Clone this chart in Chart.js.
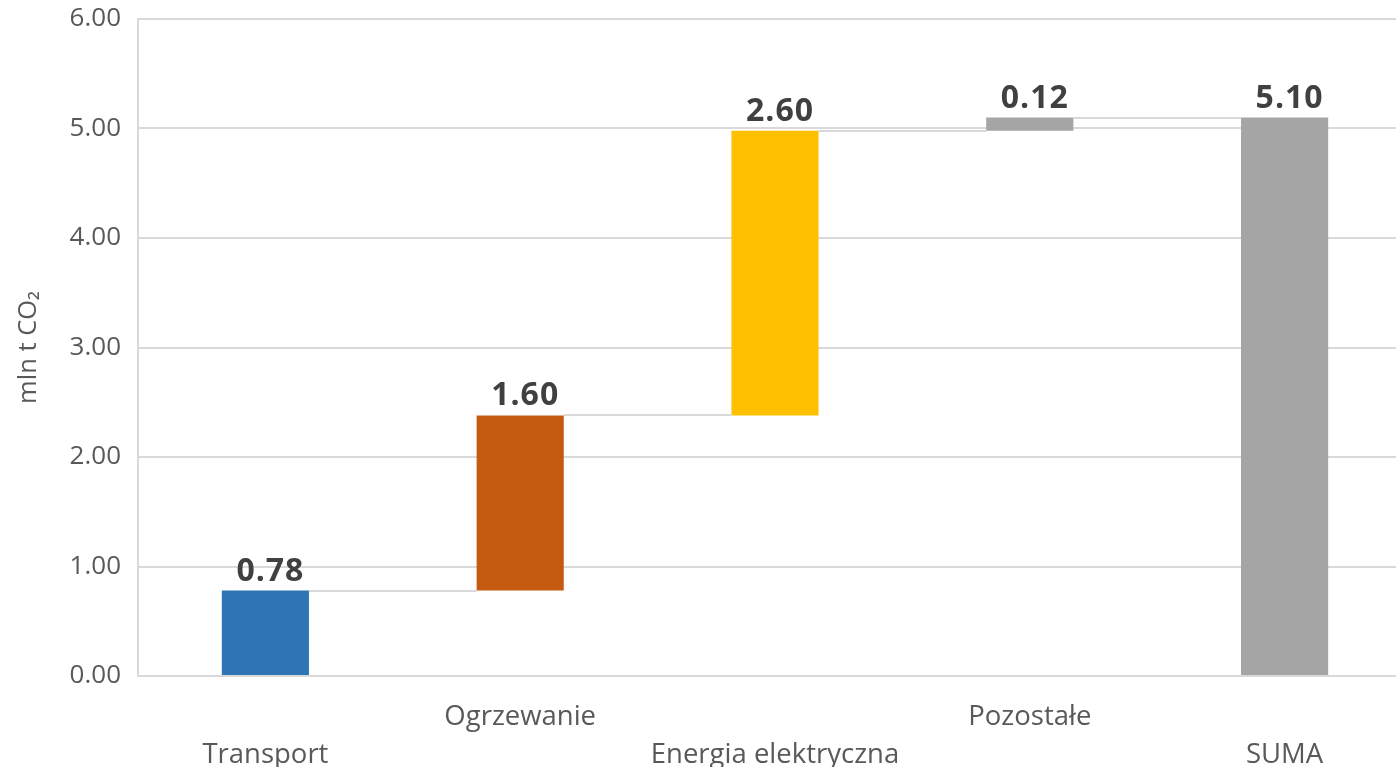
<!DOCTYPE html>
<html>
<head>
<meta charset="utf-8">
<script src="https://cdn.jsdelivr.net/npm/chart.js@4.4.1/dist/chart.umd.min.js"></script>
<style>
html,body{margin:0;padding:0;background:#fff;overflow:hidden;}
#wrap{width:1412px;height:767px;position:relative;}
</style>
</head>
<body>
<div id="wrap"><canvas id="c" width="1412" height="767"></canvas></div>
<script>
// Data
const categories = [["", "Transport"], ["Ogrzewanie", ""], ["", "Energia elektryczna"], ["Pozostałe", ""], ["", "SUMA"]];
const increments = [0.78, 1.60, 2.60, 0.12];
const total = 5.10;
const labelsText = ["0.78", "1.60", "2.60", "0.12", "5.10"];
const barColors = ["#2E75B6", "#C55A11", "#FFC000", "#A5A5A5", "#A5A5A5"];
const yTicks = [0, 1, 2, 3, 4, 5, 6];

// floating ranges for waterfall
const ranges = [];
let run = 0;
increments.forEach(v => { ranges.push([run, +(run + v).toFixed(2)]); run = +(run + v).toFixed(2); });
ranges.push([0, total]);

const FONT = "'Open Sans', sans-serif";

const waterfallPlugin = {
  id: 'waterfall',
  afterDatasetsDraw(chart) {
    const ctx = chart.ctx;
    const meta = chart.getDatasetMeta(0);
    const y = chart.scales.y;
    ctx.save();
    // connectors
    ctx.strokeStyle = '#D9D9D9';
    ctx.lineWidth = 2;
    for (let i = 0; i < meta.data.length - 1; i++) {
      const a = meta.data[i], b = meta.data[i + 1];
      const yy = Math.round(y.getPixelForValue(ranges[i][1]));
      ctx.beginPath();
      ctx.moveTo(a.x + a.width / 2, yy);
      ctx.lineTo(b.x - b.width / 2, yy);
      ctx.stroke();
    }
    // data labels
    ctx.fillStyle = '#404040';
    ctx.font = "bold 32px " + FONT;
    try { ctx.letterSpacing = '1px'; } catch (e) {}
    ctx.textAlign = 'center';
    ctx.textBaseline = 'alphabetic';
    meta.data.forEach((bar, i) => {
      const top = y.getPixelForValue(ranges[i][1]);
      ctx.fillText(labelsText[i], bar.x + 5, top - 10);
    });
    ctx.restore();
  }
};

new Chart(document.getElementById('c'), {
  type: 'bar',
  data: {
    labels: categories,
    datasets: [{
      data: ranges,
      backgroundColor: barColors,
      borderWidth: 0,
      barPercentage: 0.342,
      categoryPercentage: 1.0
    }]
  },
  options: {
    responsive: false,
    animation: false,
    devicePixelRatio: 1,
    layout: { padding: { top: 19, right: 0, left: 0, bottom: 0 } },
    plugins: { legend: { display: false }, tooltip: { enabled: false } },
    scales: {
      x: {
        grid: { display: false, drawTicks: false },
        border: { display: true, color: '#D9D9D9', width: 2 },
        ticks: {
          color: '#595959',
          font: { family: FONT, size: 27.5, lineHeight: 1.38 },
          padding: 22,
          maxRotation: 0,
          autoSkip: false
        },
        afterFit(scale) { scale.height = 91; scale.paddingLeft = 0; scale.paddingRight = 0; }
      },
      y: {
        min: 0, max: 6,
        afterBuildTicks(scale) { scale.ticks = yTicks.map(v => ({ value: v })); },
        grid: { color: '#D9D9D9', lineWidth: 2, drawTicks: false },
        border: { display: true, color: '#D9D9D9', width: 2 },
        ticks: {
          color: '#595959',
          font: { family: FONT, size: 26 },
          padding: 17,
          callback: v => v.toFixed(2)
        },
        title: {
          display: true,
          text: 'mln t CO₂',
          color: '#595959',
          font: { family: FONT, size: 25.5, lineHeight: 1.2 },
          padding: { top: 13, bottom: 0 }
        },
        afterFit(scale) { scale.width = 138; scale.paddingTop = 0; scale.paddingBottom = 0; }
      }
    }
  },
  plugins: [waterfallPlugin]
});
</script>
</body>
</html>
